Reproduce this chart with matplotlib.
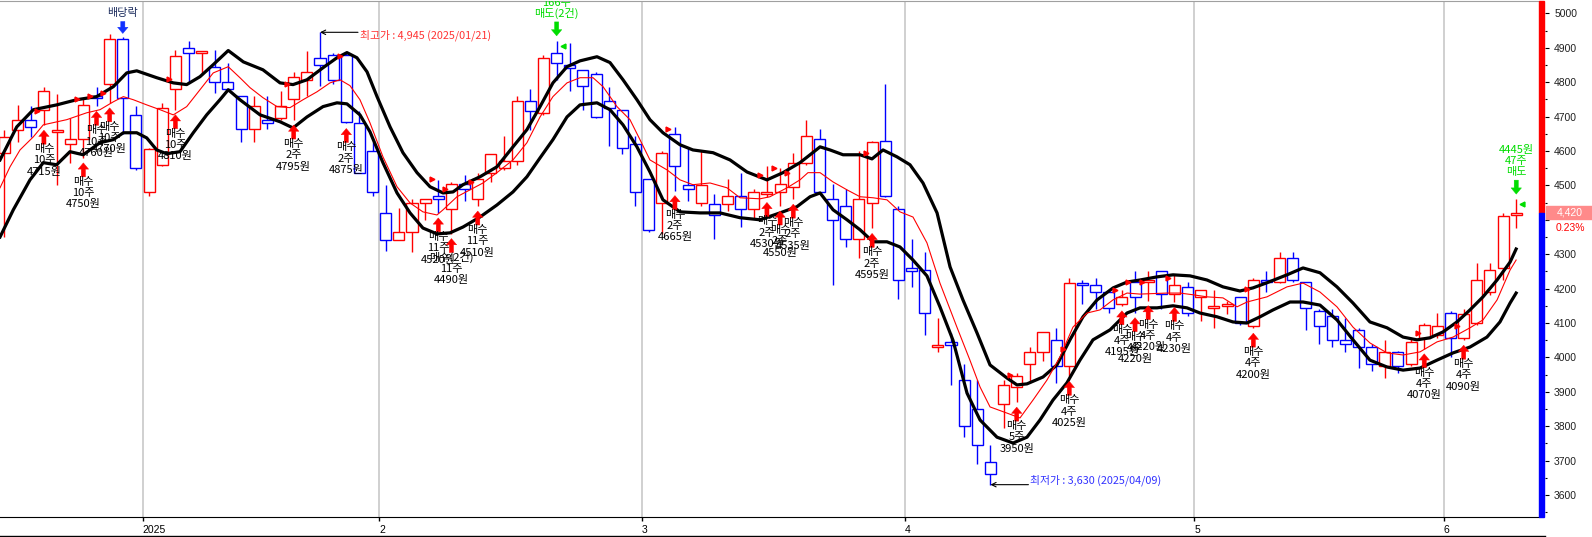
import matplotlib
matplotlib.use('Agg')
import matplotlib.pyplot as plt
import matplotlib.transforms as mtransforms
from matplotlib.patches import Rectangle
from matplotlib.lines import Line2D
import numpy as np

plt.rcParams['font.family'] = ['Noto Sans CJK KR', 'DejaVu Sans']

# daily candles, 2024-12-13 .. 2025-06-11
opens = [4595, 4660, 4690, 4720, 4655, 4620, 4635, 4760, 4795, 4925,
         4705, 4480, 4560, 4780, 4900, 4885, 4845, 4800, 4760, 4665,
         4690, 4695, 4750, 4805, 4870, 4880, 4880, 4680, 4600, 4420,
         4340, 4365, 4450, 4470, 4430, 4505, 4460, 4535, 4550, 4570,
         4745, 4710, 4885, 4850, 4835, 4825, 4745, 4720, 4620, 4520,
         4450, 4650, 4500, 4450, 4445, 4445, 4470, 4430, 4475, 4480,
         4495, 4565, 4635, 4460, 4440, 4345, 4450, 4630, 4430, 4260,
         4255, 4030, 4045, 3935, 3850, 3695, 3865, 3915, 3980, 4015,
         4050, 3975, 4215, 4210, 4190, 4155, 4220, 4220, 4250, 4185,
         4205, 4175, 4145, 4150, 4175, 4090, 4225, 4220, 4290, 4220,
         4135, 4120, 4050, 4080, 4030, 3975, 4015, 3980, 4055, 4065,
         4130, 4055, 4100, 4190, 4260, 4415]
highs = [4660, 4735, 4730, 4785, 4765, 4695, 4750, 4785, 4940, 4930,
         4730, 4610, 4740, 4895, 4920, 4890, 4895, 4855, 4760, 4760,
         4760, 4775, 4830, 4890, 4945, 4885, 4885, 4715, 4625, 4500,
         4435, 4460, 4460, 4515, 4510, 4530, 4535, 4590, 4645, 4760,
         4780, 4880, 4920, 4915, 4835, 4830, 4785, 4720, 4645, 4520,
         4600, 4670, 4610, 4600, 4475, 4520, 4535, 4490, 4555, 4550,
         4595, 4690, 4665, 4505, 4490, 4600, 4630, 4795, 4440, 4345,
         4305, 4115, 4070, 3980, 3935, 3745, 3935, 3955, 4030, 4075,
         4085, 4230, 4225, 4230, 4195, 4195, 4250, 4250, 4250, 4240,
         4220, 4195, 4195, 4165, 4175, 4230, 4250, 4305, 4305, 4220,
         4140, 4140, 4115, 4085, 4040, 4050, 4020, 4055, 4100, 4130,
         4135, 4140, 4275, 4275, 4420, 4460]
lows = [4350, 4625, 4640, 4675, 4500, 4565, 4580, 4730, 4740, 4650,
        4545, 4470, 4555, 4720, 4800, 4825, 4770, 4775, 4625, 4625,
        4665, 4690, 4690, 4760, 4790, 4795, 4680, 4535, 4470, 4310,
        4340, 4305, 4400, 4420, 4360, 4455, 4440, 4510, 4545, 4560,
        4660, 4705, 4805, 4775, 4720, 4695, 4615, 4590, 4440, 4365,
        4360, 4485, 4455, 4440, 4345, 4425, 4380, 4405, 4465, 4440,
        4460, 4560, 4475, 4210, 4320, 4290, 4375, 4465, 4170, 4205,
        4065, 4015, 3920, 3770, 3690, 3630, 3795, 3870, 3925, 3990,
        3925, 3945, 4155, 4140, 4130, 4150, 4130, 4165, 4140, 4160,
        4120, 4105, 4085, 4125, 4095, 4085, 4190, 4215, 4220, 4080,
        4040, 4030, 4015, 3970, 3960, 3940, 3955, 3975, 4025, 4055,
        4000, 4050, 4095, 4180, 4225, 4375]
closes = [4640, 4690, 4670, 4775, 4660, 4635, 4735, 4755, 4925, 4755,
          4550, 4605, 4725, 4875, 4885, 4890, 4800, 4780, 4665, 4730,
          4680, 4730, 4815, 4830, 4850, 4805, 4685, 4535, 4480, 4340,
          4365, 4450, 4460, 4460, 4505, 4490, 4520, 4590, 4570, 4745,
          4715, 4870, 4855, 4840, 4790, 4700, 4725, 4610, 4480, 4370,
          4595, 4555, 4490, 4500, 4415, 4470, 4430, 4480, 4480, 4505,
          4565, 4645, 4480, 4400, 4345, 4460, 4625, 4470, 4225, 4250,
          4130, 4035, 4035, 3800, 3745, 3660, 3920, 3945, 4015, 4075,
          3975, 4215, 4210, 4190, 4145, 4175, 4175, 4225, 4185, 4210,
          4130, 4195, 4150, 4155, 4100, 4225, 4220, 4290, 4225, 4145,
          4090, 4050, 4040, 4030, 3980, 4015, 3975, 4045, 4095, 4090,
          4055, 4125, 4225, 4255, 4410, 4420]

month_start = [11, 29, 49, 69, 91, 110]
month_labels = ['2025', '2', '3', '4', '5', '6']

# band lines: (candle position, price)
upper_band = [(-0.34, 4574), (0.93, 4670), (2.19, 4720), (3.97, 4734), (5.49, 4749), (7.01, 4758),
              (8.28, 4787), (9.30, 4827), (10.06, 4833), (11.58, 4813), (12.84, 4798), (13.86, 4793),
              (14.87, 4816), (15.88, 4851), (17.02, 4892), (18.17, 4859), (19.66, 4836), (20.96, 4798),
              (21.95, 4793), (23.01, 4807), (24.23, 4842), (25.29, 4871), (26.05, 4886), (26.81, 4871),
              (27.58, 4830), (28.34, 4758), (29.33, 4670), (30.31, 4595), (31.38, 4537), (32.37, 4496),
              (33.36, 4478), (34.12, 4481), (34.88, 4502), (36.17, 4525), (37.46, 4554), (38.68, 4612),
              (39.74, 4662), (40.74, 4729), (41.72, 4798), (42.79, 4845), (43.78, 4862), (45.07, 4874),
              (46.06, 4857), (47.05, 4807), (48.11, 4749), (49.10, 4691), (50.09, 4653), (51.39, 4618),
              (52.37, 4603), (53.90, 4595), (55.19, 4574), (56.48, 4539), (58.00, 4516), (59.22, 4537),
              (60.51, 4566), (61.28, 4589), (62.04, 4612), (62.80, 4603), (63.79, 4589), (65.08, 4589),
              (65.99, 4577), (66.83, 4603), (67.89, 4583), (68.88, 4560), (69.87, 4507), (70.94, 4420),
              (71.93, 4263), (72.91, 4167), (73.98, 4071), (74.97, 3978), (76.26, 3940), (77.02, 3920),
              (77.78, 3923), (79.00, 3943), (80.06, 3978), (81.05, 4051), (82.04, 4118), (83.11, 4167),
              (84.33, 4202), (85.39, 4219), (86.38, 4225), (87.67, 4234), (88.89, 4240), (90.18, 4237),
              (91.47, 4225), (92.69, 4205), (93.98, 4193), (94.97, 4202), (96.04, 4217), (97.56, 4240),
              (98.78, 4260), (100.07, 4246), (101.36, 4205), (102.58, 4158), (103.87, 4103), (105.17, 4086),
              (106.39, 4059), (107.45, 4051), (108.44, 4057), (109.43, 4074), (110.49, 4103), (111.48, 4138),
              (112.47, 4176), (113.54, 4225), (114.53, 4277), (114.99, 4315)]
mid_line = [(-0.34, 4493), (0.42, 4554), (1.18, 4603), (2.19, 4641), (2.95, 4676), (4.73, 4691),
            (6.25, 4711), (7.26, 4720), (8.28, 4743), (9.04, 4758), (9.80, 4749), (10.82, 4734),
            (11.83, 4720), (12.84, 4705), (13.86, 4729), (14.87, 4778), (15.88, 4827), (17.02, 4845),
            (17.91, 4813), (18.68, 4784), (19.66, 4755), (20.73, 4729), (21.72, 4726), (22.71, 4749),
            (23.77, 4772), (24.76, 4798), (25.52, 4807), (26.28, 4790), (27.04, 4749), (27.80, 4682),
            (28.79, 4583), (29.86, 4496), (30.85, 4449), (31.83, 4423), (32.90, 4414), (33.36, 4429),
            (34.42, 4467), (35.41, 4487), (36.40, 4507), (37.46, 4537), (38.68, 4574), (39.74, 4624),
            (40.74, 4699), (41.72, 4758), (42.79, 4798), (43.78, 4813), (44.77, 4813), (45.53, 4787),
            (46.59, 4729), (47.58, 4691), (48.34, 4633), (49.10, 4574), (50.40, 4545), (51.39, 4516),
            (52.37, 4502), (53.67, 4507), (54.96, 4493), (55.95, 4464), (57.47, 4461), (58.23, 4467),
            (59.53, 4493), (60.51, 4516), (61.12, 4537), (62.04, 4537), (63.03, 4510), (64.09, 4487),
            (65.08, 4467), (66.07, 4464), (67.13, 4458), (68.12, 4423), (69.11, 4408), (70.17, 4333),
            (71.16, 4216), (72.45, 4088), (73.44, 3992), (74.21, 3914), (74.97, 3856), (76.26, 3838),
            (77.25, 3824), (78.24, 3876), (79.30, 3934), (80.29, 4001), (81.28, 4088), (82.35, 4129),
            (83.33, 4138), (84.32, 4167), (85.39, 4187), (86.38, 4184), (88.43, 4187), (89.42, 4187),
            (90.41, 4182), (91.47, 4176), (92.69, 4173), (93.76, 4147), (94.52, 4161), (96.04, 4176),
            (97.56, 4205), (98.78, 4216), (100.07, 4190), (101.36, 4147), (102.58, 4088), (103.87, 4042),
            (105.17, 4013), (106.39, 4007), (107.68, 4016), (108.97, 4045), (110.19, 4059), (111.48, 4086),
            (112.47, 4109), (113.54, 4167), (114.53, 4254), (114.99, 4283)]
lower_band = [(-0.34, 4350), (0.67, 4429), (1.94, 4516), (2.95, 4566), (3.97, 4560), (4.98, 4598),
              (5.99, 4589), (7.26, 4624), (8.28, 4633), (9.04, 4653), (10.06, 4653), (10.82, 4638),
              (11.58, 4603), (12.34, 4592), (13.35, 4598), (14.36, 4653), (15.38, 4705), (16.39, 4749),
              (17.02, 4778), (17.91, 4749), (19.44, 4705), (20.96, 4685), (21.95, 4667), (23.01, 4699),
              (24.23, 4729), (25.29, 4740), (26.05, 4737), (27.04, 4705), (27.80, 4656), (28.79, 4566),
              (29.86, 4478), (30.85, 4420), (31.83, 4376), (32.90, 4359), (33.89, 4362), (34.88, 4379),
              (36.17, 4408), (37.46, 4443), (38.68, 4481), (39.74, 4525), (40.74, 4580), (41.72, 4633),
              (42.79, 4699), (43.78, 4734), (45.07, 4740), (46.06, 4720), (47.05, 4676), (48.11, 4612),
              (49.10, 4539), (50.09, 4458), (51.39, 4423), (52.90, 4420), (54.43, 4420), (55.95, 4406),
              (57.47, 4400), (58.99, 4420), (60.28, 4438), (61.28, 4467), (62.04, 4478), (63.03, 4429),
              (64.09, 4400), (65.08, 4371), (66.07, 4336), (67.13, 4336), (68.12, 4321), (69.11, 4283),
              (70.17, 4237), (71.16, 4147), (72.15, 4050), (73.22, 3896), (74.21, 3818), (75.50, 3768),
              (76.72, 3751), (77.78, 3768), (78.77, 3818), (79.76, 3876), (80.82, 3926), (81.81, 3992),
              (82.80, 4051), (84.10, 4080), (85.39, 4129), (86.38, 4144), (87.67, 4144), (88.89, 4150),
              (89.95, 4144), (90.94, 4129), (92.24, 4118), (93.45, 4103), (94.52, 4100), (95.51, 4118),
              (96.50, 4138), (97.79, 4161), (98.78, 4161), (100.07, 4152), (101.36, 4109), (102.58, 4051),
              (103.87, 3992), (105.17, 3972), (106.39, 3963), (107.68, 3969), (108.97, 3992), (110.19, 4013),
              (111.48, 4030), (112.77, 4059), (113.76, 4103), (114.53, 4158), (114.99, 4187)]

# trade signals
buy_idx = [3, 6, 7, 8, 13, 22, 26, 33, 34, 36, 51, 58, 59, 60, 66, 77, 81, 85, 86, 87, 89, 95, 108, 111]
buy_qty = [10, 10, 10, 10, 10, 2, 2, 11, 11, 11, 2, 2, 2, 2, 2, 5, 4, 4, 4, 4, 4, 4, 4, 4]
buy_price = [4715, 4750, 4760, 4770, 4810, 4795, 4875, 4520, 4490, 4510, 4665, 4530,
             4550, 4535, 4595, 3950, 4025, 4195, 4220, 4220, 4230, 4200, 4070, 4090]
buy_count = [1, 1, 1, 1, 1, 1, 1, 1, 2, 1, 1, 1, 1, 1, 1, 1, 1, 1, 1, 1, 1, 1, 1, 1]
sell_idx = [42, 115]
sell_qty = [166, 47]
sell_price = [4905, 4445]
sell_count = [2, 1]

ex_div_idx = 9
hi_idx, hi_val, hi_date = 24, 4945, '2025/01/21'
lo_idx, lo_val, lo_date = 75, 3630, '2025/04/09'
last_close, change_pct = 4420, 0.23

W, H = 1592, 537
fig = plt.figure(figsize=(W / 100, H / 100), dpi=100)
ax = fig.add_axes([0, 20 / H, 1539 / W, 516 / H])
ax.set_xlim(-0.342, 116.73)
ax.set_ylim(3536, 5036)

RED, BLUE, GREEN = '#ff0000', '#0000ff', '#00dd00'
cjk = ['Noto Sans CJK KR', 'DejaVu Sans']
num_font = 'Liberation Sans'

for m in month_start:
    ax.axvline(m - 0.5, color='#c8c8c8', lw=1.2, zorder=0)

# candles, hollow bodies
x = np.arange(len(opens))
o, h, l, c = (np.array(a, dtype=float) for a in (opens, highs, lows, closes))
col = np.where(c >= o, RED, BLUE)
b_lo, b_hi = np.minimum(o, c), np.maximum(o, c)
ax.vlines(x, l, b_lo, colors=col, lw=1.0, zorder=2)
ax.vlines(x, b_hi, h, colors=col, lw=1.0, zorder=2)
ax.bar(x, b_hi - b_lo, bottom=b_lo, width=0.84, facecolor='white',
       edgecolor=col, linewidth=1.0, zorder=2)

for band, color, lw in ((upper_band, 'black', 2.3), (lower_band, 'black', 2.3), (mid_line, RED, 0.8)):
    bx, by = zip(*band)
    ax.plot(bx, by, color=color, lw=lw, zorder=3, solid_joinstyle='round')


def arrow(i, price, dy_tip, dy_tail, color):
    tr = mtransforms.offset_copy(ax.transData, fig=fig, x=0, y=dy_tip, units='dots')
    ax.annotate('', xy=(i, price), xycoords=tr, xytext=(0, dy_tail - dy_tip),
                textcoords='offset pixels',
                arrowprops=dict(arrowstyle='simple,head_length=0.45,head_width=0.75,tail_width=0.3',
                                fc=color, ec=color, lw=0.3, shrinkA=0, shrinkB=0),
                zorder=5)


def label(i, price, dy, text, color, size=8, clip=False):
    ax.annotate(text, xy=(i, price), xytext=(0, dy), textcoords='offset pixels',
                ha='center', va='center', fontsize=size, color=color,
                family=cjk, zorder=6, clip_on=clip, annotation_clip=False)


for i, q, p, n in zip(buy_idx, buy_qty, buy_price, buy_count):
    ax.plot(i - 0.5, p, marker='>', ms=3.5, color=RED, mec=RED, zorder=4)
    arrow(i, lows[i], -5, -19, RED)
    head = '매수' if n == 1 else f'매수({n}건)'
    for k, t in enumerate([head, f'{q}주', f'{p}원']):
        label(i, lows[i], -(24 + 11.3 * k), t, 'black')

for i, q, p, n in zip(sell_idx, sell_qty, sell_price, sell_count):
    ax.plot(i + 0.45, p, marker='<', ms=3.5, color=GREEN, mec=GREEN, zorder=4)
    arrow(i, highs[i], 5, 19, GREEN)
    head = '매도' if n == 1 else f'매도({n}건)'
    for k, t in enumerate([head, f'{q}주', f'{p}원']):
        label(i, highs[i], 27 + 11 * k, t, GREEN, clip=True)

# ex-dividend marker
arrow(ex_div_idx, highs[ex_div_idx], 4, 16, '#1030ff')
label(ex_div_idx, highs[ex_div_idx], 24, '배당락', '#203060')

# period high / low notes
for idx, val, date, name, color, dy in ((hi_idx, hi_val, hi_date, '최고가', '#ff3333', -3),
                                        (lo_idx, lo_val, lo_date, '최저가', '#3333ff', 4)):
    ax.annotate('', xy=(idx, val), xytext=(38, 0), textcoords='offset pixels',
                arrowprops=dict(arrowstyle='->', color='black', lw=0.8,
                                shrinkA=0, shrinkB=0, mutation_scale=8), zorder=5)
    ax.annotate(f'{name} : {val:,} ({date})', xy=(idx, val), xytext=(40, dy),
                textcoords='offset pixels', ha='left', va='center',
                fontsize=7.8, color=color, family=cjk, zorder=6)

# axes styling
for s in ('left', 'right'):
    ax.spines[s].set_visible(False)
ax.spines['top'].set_color('#a0a0a0')
ax.spines['bottom'].set_color('black')
ax.spines['right'].set_position(('outward', 4.3))

ax.set_xticks([m - 0.5 for m in month_start])
ax.set_xticklabels(month_labels)
for t in ax.get_xticklabels():
    t.set_ha('left')
    t.set_family(num_font)
    t.set_fontsize(7.5)
ax.tick_params(axis='x', direction='out', length=3, width=1, pad=2.5, colors='black')

ax.yaxis.tick_right()
yt = list(range(3600, 5001, 100))
ax.set_yticks(yt)
ax.set_yticklabels(['' if v == 4400 else str(v) for v in yt])
ax.set_yticks(range(3550, 5001, 100), minor=True)
for t in ax.get_yticklabels():
    t.set_family(num_font)
    t.set_fontsize(7.5)
    t.set_color('#202020')
ax.tick_params(axis='y', which='major', direction='out', length=2.6, width=0.8, pad=4)
ax.tick_params(axis='y', which='minor', direction='out', length=1.5, width=0.8)

# price-side color bar: red above the last close, blue below
btr = mtransforms.blended_transform_factory(ax.transAxes, ax.transData)
bw = 5 / 1539
ax.add_patch(Rectangle((1.0, last_close), bw, 5036 - last_close, transform=btr,
                       color=RED, clip_on=False, zorder=5))
ax.add_patch(Rectangle((1.0, 3536), bw, last_close - 3536, transform=btr,
                       color=BLUE, clip_on=False, zorder=5))

# last price box
ftr = mtransforms.blended_transform_factory(fig.transFigure, ax.transData)
ax.add_patch(Rectangle((1546 / W, last_close - 19), 46 / W, 38, transform=ftr,
                       color='#ff8a8a', clip_on=False, zorder=5))
ax.text(1570 / W, last_close, f'{last_close:,}', transform=ftr, ha='center', va='center',
        color='white', fontsize=7.5, family=num_font, clip_on=False, zorder=6)
ax.text(1570 / W, last_close - 43, f'{change_pct:.2f}%', transform=ftr, ha='center', va='center',
        color=RED, fontsize=7.5, family=num_font, clip_on=False, zorder=6)

# bottom border of date strip
fig.add_artist(Line2D([0, 1545 / W], [1.2 / H, 1.2 / H], color='black', lw=1.0,
                      transform=fig.transFigure))

fig.savefig('out.png', dpi=100)
